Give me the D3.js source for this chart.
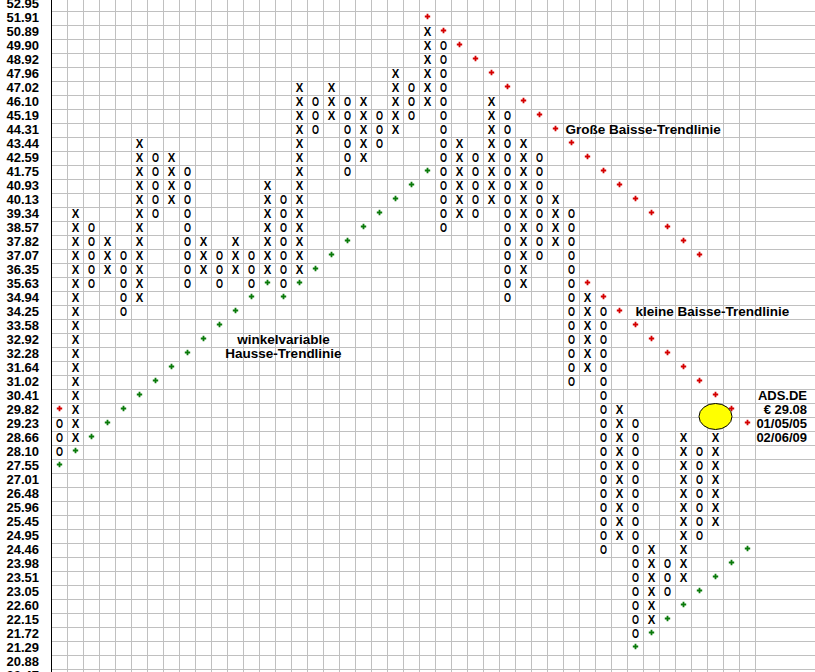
<!DOCTYPE html>
<html>
<head>
<meta charset="utf-8">
<script src="https://cdn.jsdelivr.net/npm/d3@7"></script>
<style>
  html, body { margin: 0; padding: 0; background: #fff; }
  svg { display: block; }
  text { font-family: "Liberation Sans", Arial, sans-serif; font-weight: bold; }
</style>
</head>
<body>
<div id="chart"></div>
<script>
// price levels of the point & figure grid (top to bottom)
var levels = ["52.95","51.91","50.89","49.90","48.92","47.96","47.02","46.10","45.19","44.31",
  "43.44","42.59","41.75","40.93","40.13","39.34","38.57","37.82","37.07","36.35",
  "35.63","34.94","34.25","33.58","32.92","32.28","31.64","31.02","30.41","29.82",
  "29.23","28.66","28.10","27.55","27.01","26.48","25.96","25.45","24.95","24.46",
  "23.98","23.51","23.05","22.60","22.15","21.72","21.29","20.88","20.47"];

// columns: type, top box, bottom box
var colTypes = ["O","X","O","X","O","X","O","X","O","X","O","X","O","X","O","X","O","X","O","X","O",
  "X","O","X","O","X","O","X","O","X","O","X","O","X","O","X","O","X","O","X","O","X"];
var colHigh = ["29.23","39.34","38.57","37.82","37.07","43.44","42.59","42.59","41.75","37.82",
  "37.07","37.82","37.07","40.93","40.13","47.02","46.10","47.02","46.10","46.10",
  "45.19","47.96","47.02","50.89","49.90","43.44","42.59","46.10","45.19","43.44",
  "42.59","40.13","39.34","34.94","34.25","29.82","29.23","24.46","23.98","28.66",
  "28.10","28.66"];
var colLow = ["28.10","28.66","35.63","36.35","34.25","34.94","39.34","40.13","35.63","36.35",
  "35.63","36.35","35.63","36.35","35.63","36.35","44.31","45.19","41.75","42.59",
  "43.44","44.31","45.19","46.10","38.57","39.34","39.34","40.13","34.94","35.63",
  "37.07","37.82","31.02","31.64","24.46","24.95","21.72","22.15","23.05","23.51",
  "24.95","25.45"];

// trend lines (column index, level)
var hausseCols = [0,1,2,3,4,5,6,7,8,9,10,11,12,13,14,15,16,17,18,19,20,21,22,23];
var hausseLevels = ["27.55","28.10","28.66","29.23","29.82","30.41","31.02","31.64","32.28","32.92",
  "33.58","34.25","34.94","35.63","34.94","35.63","36.35","37.07","37.82","38.57",
  "39.34","40.13","40.93","41.75"];
var hausse2Cols = [36,37,38,39,40,41,42,43];
var hausse2Levels = ["21.29","21.72","22.15","22.60","23.05","23.51","23.98","24.46"];
var baisseCols = [0,23,24,25,26,27,28,29,30,31,32,33,34,35,36,37,38,39,40];
var baisseLevels = ["29.82","51.91","50.89","49.90","48.92","47.96","47.02","46.10","45.19","44.31",
  "43.44","42.59","41.75","40.93","40.13","39.34","38.57","37.82","37.07"];
var baisse2Cols = [33,34,35,36,37,38,39,40,41,42,43];
var baisse2Levels = ["35.63","34.94","34.25","33.58","32.92","32.28","31.64","31.02","30.41","29.82","29.23"];

var infoLines = ["ADS.DE","\u20AC 29.08","01/05/05","02/06/09"];
var infoLevels = ["30.41","29.82","29.23","28.66"];
var currentCol = 41, currentLevel = "29.23";

var W = 815, H = 672;
var svg = d3.select("#chart").append("svg")
  .attr("width", W).attr("height", H);

var x = d3.scaleBand().domain(d3.range(44)).range([51.5, 755.5]).padding(0);
var y = d3.scaleBand().domain(levels).range([-2.5, -2.5 + 14 * levels.length]).padding(0);
var bw = x.bandwidth(), bh = y.bandwidth();

// grid
var grid = svg.append("g").attr("stroke", "#c0c0c0").attr("stroke-width", 1);
grid.selectAll("line.h").data(levels).join("line")
  .attr("x1", 51.5).attr("x2", W)
  .attr("y1", function (d) { return y(d) + bh; })
  .attr("y2", function (d) { return y(d) + bh; });
grid.selectAll("line.v").data(d3.range(1, 45)).join("line")
  .attr("x1", function (d) { return 51.5 + d * bw; })
  .attr("x2", function (d) { return 51.5 + d * bw; })
  .attr("y1", 0).attr("y2", H);
svg.append("line").attr("x1", 51.5).attr("x2", 51.5).attr("y1", 0).attr("y2", H)
  .attr("stroke", "#000");

// y labels
svg.append("g").selectAll("text").data(levels).join("text")
  .attr("x", 39).attr("y", function (d) { return y(d) + 10.5; })
  .attr("text-anchor", "end").attr("font-size", 13).attr("fill", "#000")
  .text(function (d) { return d; });

// boxes
var boxes = [];
colTypes.forEach(function (t, i) {
  var a = levels.indexOf(colHigh[i]), b = levels.indexOf(colLow[i]);
  for (var r = a; r <= b; r++) boxes.push({ col: i, level: levels[r], t: t });
});
svg.append("g").selectAll("text").data(boxes).join("text")
  .attr("x", function (d) { return x(d.col) + bw / 2; })
  .attr("y", function (d) { return y(d.level) + 10.5; })
  .attr("text-anchor", "middle").attr("font-size", 13)
  .attr("textLength", function (d) { return d.t === "X" ? 7.5 : 7; })
  .attr("lengthAdjust", "spacingAndGlyphs")
  .text(function (d) { return d.t; });

// trend line crosses
function crosses(cols, lvls, color) {
  var pts = cols.map(function (c, i) { return { col: c, level: lvls[i] }; });
  svg.append("g").selectAll("path").data(pts).join("path")
    .attr("d", function (d) {
      var cx = x(d.col) + bw / 2, cy = y(d.level) + bh / 2 - 2;
      return "M" + (cx - 2.7) + "," + cy + "H" + (cx + 2.7) + "M" + cx + "," + (cy - 2.7) + "V" + (cy + 2.7);
    })
    .attr("stroke", color).attr("stroke-width", 1.8).attr("fill", "none");
}
crosses(hausseCols, hausseLevels, "#0a7a0a");
crosses(hausse2Cols, hausse2Levels, "#0a7a0a");
crosses(baisseCols, baisseLevels, "#d40000");
crosses(baisse2Cols, baisse2Levels, "#d40000");

// annotations
svg.append("text").attr("x", x(32) + 2).attr("y", y("44.31") + 10.5)
  .attr("font-size", 13.5).text("Große Baisse-Trendlinie");
svg.append("text").attr("x", x(36) + bw / 2).attr("y", y("34.25") + 10.5)
  .attr("font-size", 13.5).text("kleine Baisse-Trendlinie");
svg.append("text").attr("x", x(14) + bw / 2).attr("y", y("32.92") + 10.5)
  .attr("text-anchor", "middle").attr("font-size", 13.5).text("winkelvariable");
svg.append("text").attr("x", x(14) + bw / 2).attr("y", y("32.28") + 10.5)
  .attr("text-anchor", "middle").attr("font-size", 13.5).text("Hausse-Trendlinie");

// current price marker
svg.append("ellipse")
  .attr("cx", x(currentCol) + bw / 2).attr("cy", y(currentLevel) - 1)
  .attr("rx", 16.5).attr("ry", 13)
  .attr("fill", "#ffff00").attr("stroke", "#000").attr("stroke-width", 1);

svg.append("g").selectAll("text").data(infoLines).join("text")
  .attr("x", 807).attr("y", function (d, i) { return y(infoLevels[i]) + 10.5; })
  .attr("text-anchor", "end").attr("font-size", 13)
  .text(function (d) { return d; });
</script>
</body>
</html>
